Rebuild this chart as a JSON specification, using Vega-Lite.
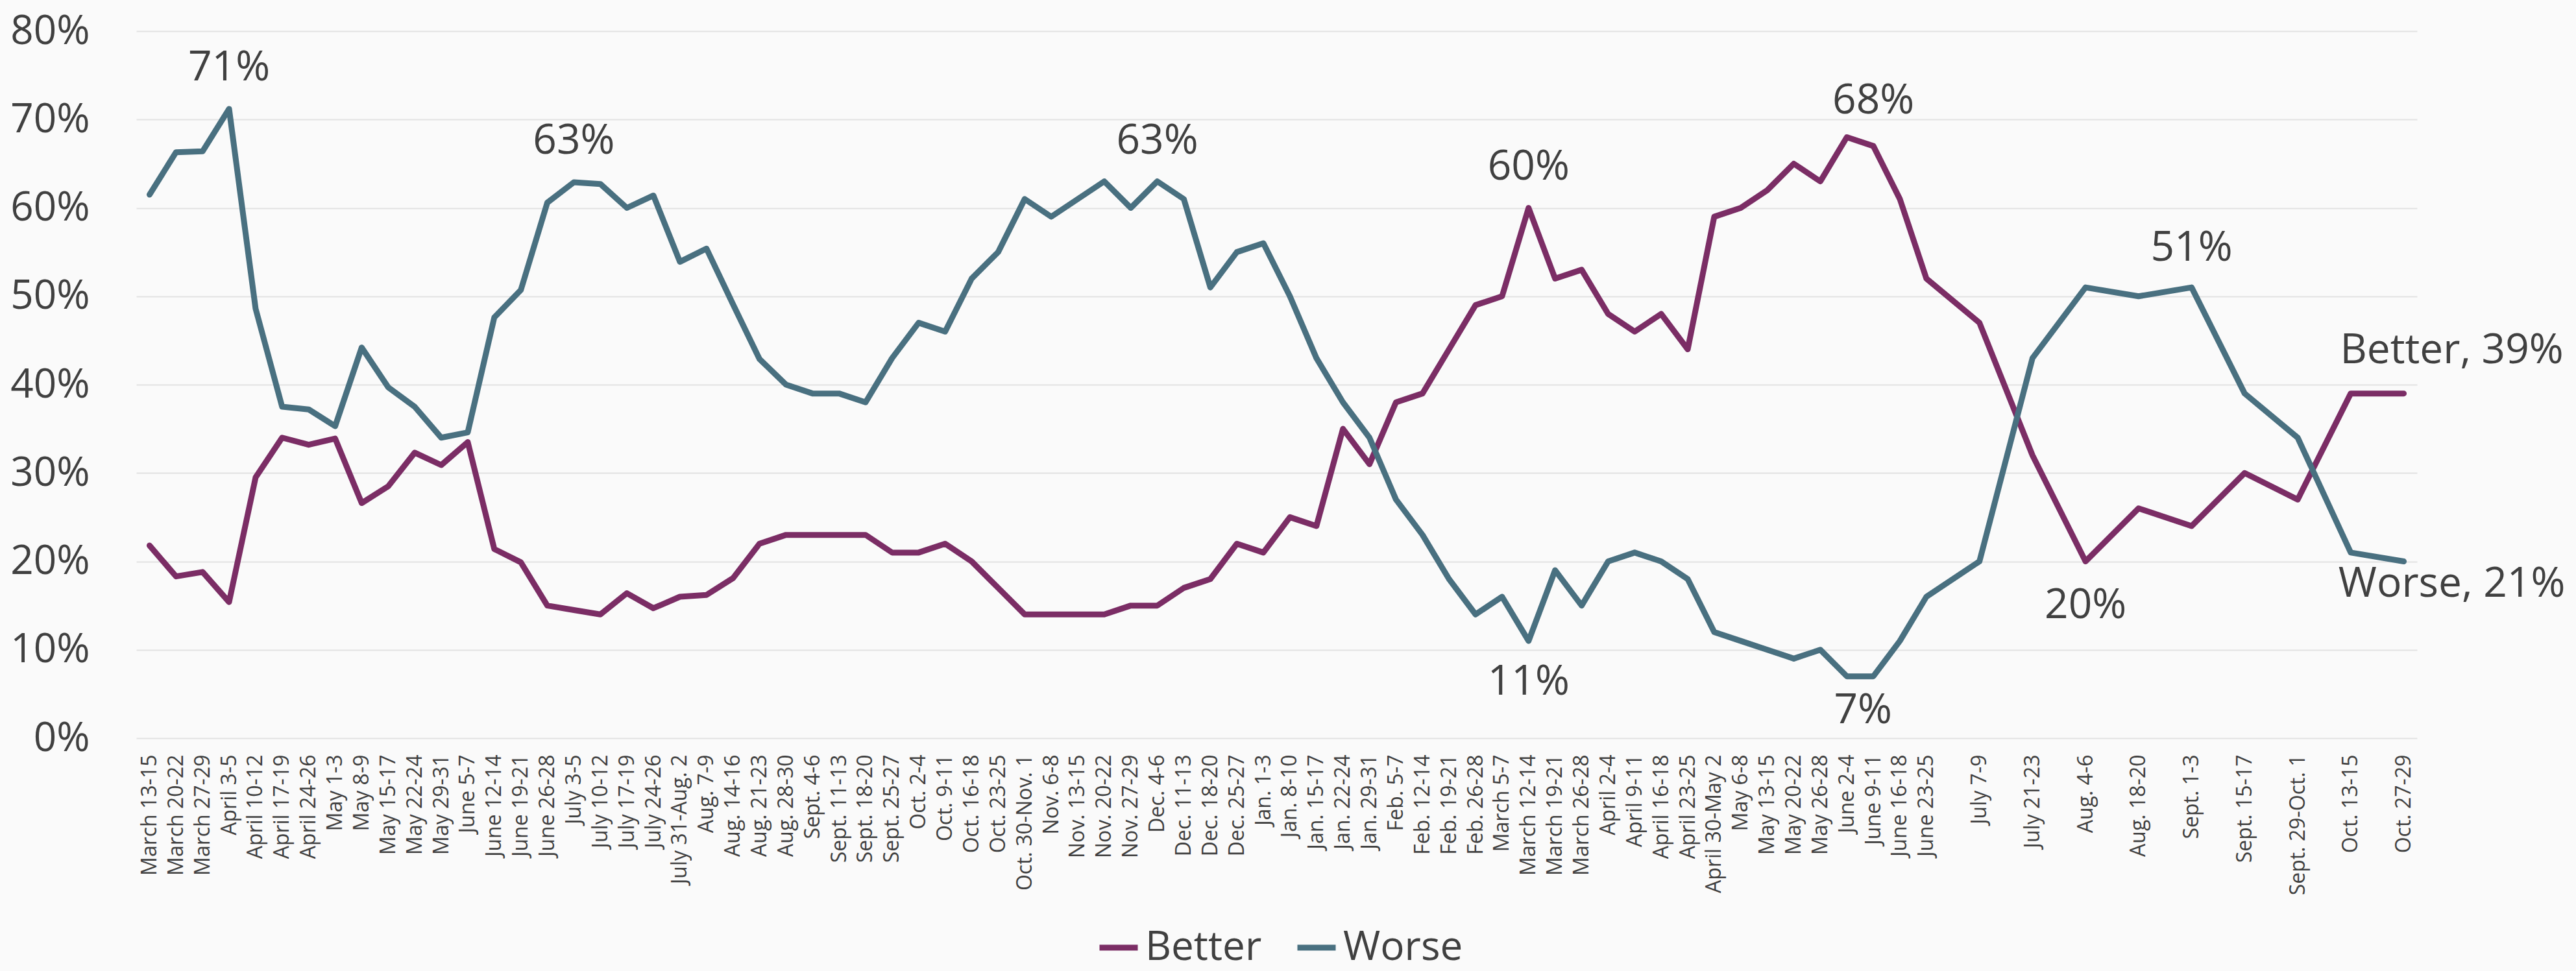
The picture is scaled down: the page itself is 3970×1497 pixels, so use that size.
{
  "$schema": "https://vega.github.io/schema/vega-lite/v6.json",
  "width": 3515,
  "height": 1090,
  "autosize": "none",
  "padding": {"left": 210, "top": 48, "right": 245, "bottom": 359},
  "background": "#fafafa",
  "config": {"view": {"stroke": null}, "font": "Open Sans"},
  "datasets": {
    "poll": [
      {"i":0,"d":"March 13-15","Better":21.8,"Worse":61.5},
      {"i":1,"d":"March 20-22","Better":18.3,"Worse":66.3},
      {"i":2,"d":"March 27-29","Better":18.8,"Worse":66.4},
      {"i":3,"d":"April 3-5","Better":15.4,"Worse":71.2},
      {"i":4,"d":"April 10-12","Better":29.5,"Worse":48.6},
      {"i":5,"d":"April 17-19","Better":34.0,"Worse":37.5},
      {"i":6,"d":"April 24-26","Better":33.2,"Worse":37.2},
      {"i":7,"d":"May 1-3","Better":33.9,"Worse":35.3},
      {"i":8,"d":"May 8-9","Better":26.6,"Worse":44.2},
      {"i":9,"d":"May 15-17","Better":28.5,"Worse":39.7},
      {"i":10,"d":"May 22-24","Better":32.3,"Worse":37.5},
      {"i":11,"d":"May 29-31","Better":30.9,"Worse":34.0},
      {"i":12,"d":"June 5-7","Better":33.5,"Worse":34.6},
      {"i":13,"d":"June 12-14","Better":21.4,"Worse":47.6},
      {"i":14,"d":"June 19-21","Better":19.9,"Worse":50.7},
      {"i":15,"d":"June 26-28","Better":15.0,"Worse":60.6},
      {"i":16,"d":"July 3-5","Better":14.5,"Worse":62.9},
      {"i":17,"d":"July 10-12","Better":14.0,"Worse":62.7},
      {"i":18,"d":"July 17-19","Better":16.4,"Worse":60.0},
      {"i":19,"d":"July 24-26","Better":14.7,"Worse":61.4},
      {"i":20,"d":"July 31-Aug. 2","Better":16.0,"Worse":53.9},
      {"i":21,"d":"Aug. 7-9","Better":16.2,"Worse":55.4},
      {"i":22,"d":"Aug. 14-16","Better":18.1,"Worse":49.1},
      {"i":23,"d":"Aug. 21-23","Better":22,"Worse":42.9},
      {"i":24,"d":"Aug. 28-30","Better":23,"Worse":40},
      {"i":25,"d":"Sept. 4-6","Better":23,"Worse":39},
      {"i":26,"d":"Sept. 11-13","Better":23,"Worse":39},
      {"i":27,"d":"Sept. 18-20","Better":23,"Worse":38},
      {"i":28,"d":"Sept. 25-27","Better":21,"Worse":43},
      {"i":29,"d":"Oct. 2-4","Better":21,"Worse":47},
      {"i":30,"d":"Oct. 9-11","Better":22,"Worse":46},
      {"i":31,"d":"Oct. 16-18","Better":20,"Worse":52},
      {"i":32,"d":"Oct. 23-25","Better":17,"Worse":55},
      {"i":33,"d":"Oct. 30-Nov. 1","Better":14,"Worse":61},
      {"i":34,"d":"Nov. 6-8","Better":14,"Worse":59},
      {"i":35,"d":"Nov. 13-15","Better":14,"Worse":61},
      {"i":36,"d":"Nov. 20-22","Better":14,"Worse":63},
      {"i":37,"d":"Nov. 27-29","Better":15,"Worse":60},
      {"i":38,"d":"Dec. 4-6","Better":15,"Worse":63},
      {"i":39,"d":"Dec. 11-13","Better":17,"Worse":61},
      {"i":40,"d":"Dec. 18-20","Better":18,"Worse":51},
      {"i":41,"d":"Dec. 25-27","Better":22,"Worse":55},
      {"i":42,"d":"Jan. 1-3","Better":21,"Worse":56},
      {"i":43,"d":"Jan. 8-10","Better":25,"Worse":50},
      {"i":44,"d":"Jan. 15-17","Better":24,"Worse":43},
      {"i":45,"d":"Jan. 22-24","Better":35,"Worse":38},
      {"i":46,"d":"Jan. 29-31","Better":31,"Worse":34},
      {"i":47,"d":"Feb. 5-7","Better":38,"Worse":27},
      {"i":48,"d":"Feb. 12-14","Better":39,"Worse":23},
      {"i":49,"d":"Feb. 19-21","Better":44,"Worse":18},
      {"i":50,"d":"Feb. 26-28","Better":49,"Worse":14},
      {"i":51,"d":"March 5-7","Better":50,"Worse":16},
      {"i":52,"d":"March 12-14","Better":60,"Worse":11},
      {"i":53,"d":"March 19-21","Better":52,"Worse":19},
      {"i":54,"d":"March 26-28","Better":53,"Worse":15},
      {"i":55,"d":"April 2-4","Better":48,"Worse":20},
      {"i":56,"d":"April 9-11","Better":46,"Worse":21},
      {"i":57,"d":"April 16-18","Better":48,"Worse":20},
      {"i":58,"d":"April 23-25","Better":44,"Worse":18},
      {"i":59,"d":"April 30-May 2","Better":59,"Worse":12},
      {"i":60,"d":"May 6-8","Better":60,"Worse":11},
      {"i":61,"d":"May 13-15","Better":62,"Worse":10},
      {"i":62,"d":"May 20-22","Better":65,"Worse":9},
      {"i":63,"d":"May 26-28","Better":63,"Worse":10},
      {"i":64,"d":"June 2-4","Better":68,"Worse":7},
      {"i":65,"d":"June 9-11","Better":67,"Worse":7},
      {"i":66,"d":"June 16-18","Better":61,"Worse":11},
      {"i":67,"d":"June 23-25","Better":52,"Worse":16},
      {"i":69,"d":"July 7-9","Better":47,"Worse":20},
      {"i":71,"d":"July 21-23","Better":32,"Worse":43},
      {"i":73,"d":"Aug. 4-6","Better":20,"Worse":51},
      {"i":75,"d":"Aug. 18-20","Better":26,"Worse":50},
      {"i":77,"d":"Sept. 1-3","Better":24,"Worse":51},
      {"i":79,"d":"Sept. 15-17","Better":30,"Worse":39},
      {"i":81,"d":"Sept. 29-Oct. 1","Better":27,"Worse":34},
      {"i":83,"d":"Oct. 13-15","Better":39,"Worse":21},
      {"i":85,"d":"Oct. 27-29","Better":39,"Worse":20}
    ],
    "notesA": [
      {"d":"April 3-5","value":75.8,"t":"71%"},
      {"d":"July 3-5","value":67.5,"t":"63%"},
      {"d":"Dec. 4-6","value":67.5,"t":"63%"},
      {"d":"March 12-14","value":64.6,"t":"60%"},
      {"d":"March 12-14","value":6.3,"t":"11%"},
      {"d":"June 9-11","value":72.1,"t":"68%"},
      {"d":"Aug. 4-6","value":15.0,"t":"20%"},
      {"d":"Sept. 1-3","value":55.4,"t":"51%"}
    ],
    "notesB": [
      {"d":"June 2-4","value":3.1,"t":"7%"}
    ],
    "notesC": [
      {"d":"Oct. 27-29","value":43.8,"t":"Better, 39%"},
      {"d":"Oct. 27-29","value":17.4,"t":"Worse, 21%"}
    ]
  },
  "encoding": {
    "x": {
      "field": "d",
      "type": "ordinal",
      "scale": {
        "type": "point",
        "padding": 0.5,
        "domain": ["March 13-15","March 20-22","March 27-29","April 3-5","April 10-12","April 17-19","April 24-26","May 1-3","May 8-9","May 15-17","May 22-24","May 29-31","June 5-7","June 12-14","June 19-21","June 26-28","July 3-5","July 10-12","July 17-19","July 24-26","July 31-Aug. 2","Aug. 7-9","Aug. 14-16","Aug. 21-23","Aug. 28-30","Sept. 4-6","Sept. 11-13","Sept. 18-20","Sept. 25-27","Oct. 2-4","Oct. 9-11","Oct. 16-18","Oct. 23-25","Oct. 30-Nov. 1","Nov. 6-8","Nov. 13-15","Nov. 20-22","Nov. 27-29","Dec. 4-6","Dec. 11-13","Dec. 18-20","Dec. 25-27","Jan. 1-3","Jan. 8-10","Jan. 15-17","Jan. 22-24","Jan. 29-31","Feb. 5-7","Feb. 12-14","Feb. 19-21","Feb. 26-28","March 5-7","March 12-14","March 19-21","March 26-28","April 2-4","April 9-11","April 16-18","April 23-25","April 30-May 2","May 6-8","May 13-15","May 20-22","May 26-28","June 2-4","June 9-11","June 16-18","June 23-25","gap1","July 7-9","gap2","July 21-23","gap3","Aug. 4-6","gap4","Aug. 18-20","gap5","Sept. 1-3","gap6","Sept. 15-17","gap7","Sept. 29-Oct. 1","gap8","Oct. 13-15","gap9","Oct. 27-29"]
      },
      "axis": {
        "title": null,
        "labelAngle": 270,
        "labelAlign": "right",
        "labelBaseline": "middle",
        "labelFont": "Open Sans",
        "labelFontSize": 32,
        "labelColor": "#404040",
        "labelPadding": 25,
        "labelLimit": 0,
        "ticks": false,
        "domain": false,
        "grid": false,
        "labelOverlap": false,
        "labelBound": false,
        "labelExpr": "indexof(datum.label, 'gap') == 0 ? '' : datum.label"
      }
    },
    "y": {
      "field": "value",
      "type": "quantitative",
      "scale": {"domain": [0, 80], "nice": false},
      "axis": {
        "title": null,
        "values": [0, 10, 20, 30, 40, 50, 60, 70, 80],
        "labelExpr": "datum.value + '%'",
        "labelFont": "Open Sans",
        "labelFontSize": 62,
        "labelColor": "#404040",
        "labelPadding": 72,
        "labelLimit": 0,
        "ticks": false,
        "domain": false,
        "gridColor": "#e2e2e2",
        "gridWidth": 2
      }
    }
  },
  "layer": [
    {
      "data": {"name": "poll"},
      "transform": [{"fold": ["Better", "Worse"], "as": ["series", "value"]}],
      "mark": {"type": "line", "strokeWidth": 9, "strokeCap": "round", "strokeJoin": "round"},
      "encoding": {
        "color": {
          "field": "series",
          "type": "nominal",
          "scale": {"domain": ["Better", "Worse"], "range": ["#7b2d65", "#497080"]},
          "legend": {
            "title": null,
            "orient": "none",
            "legendX": 1480,
            "legendY": 1379,
            "direction": "horizontal",
            "labelFont": "Open Sans",
            "labelFontSize": 62,
            "labelColor": "#404040",
            "labelLimit": 0,
            "symbolType": "stroke",
            "symbolSize": 3481,
            "symbolStrokeWidth": 9,
            "labelOffset": 7,
            "columnPadding": 36
          }
        },
        "order": {"field": "i", "type": "quantitative"}
      }
    },
    {
      "data": {"name": "notesA"},
      "mark": {"type": "text", "font": "Open Sans", "fontSize": 64, "fill": "#404040", "align": "center", "baseline": "middle"},
      "encoding": {"text": {"field": "t"}}
    },
    {
      "data": {"name": "notesB"},
      "mark": {"type": "text", "font": "Open Sans", "fontSize": 64, "fill": "#404040", "align": "center", "baseline": "middle", "dx": 25},
      "encoding": {"text": {"field": "t"}}
    },
    {
      "data": {"name": "notesC"},
      "mark": {"type": "text", "font": "Open Sans", "fontSize": 64, "fill": "#404040", "align": "center", "baseline": "middle", "dx": 74},
      "encoding": {"text": {"field": "t"}}
    }
  ]
}
